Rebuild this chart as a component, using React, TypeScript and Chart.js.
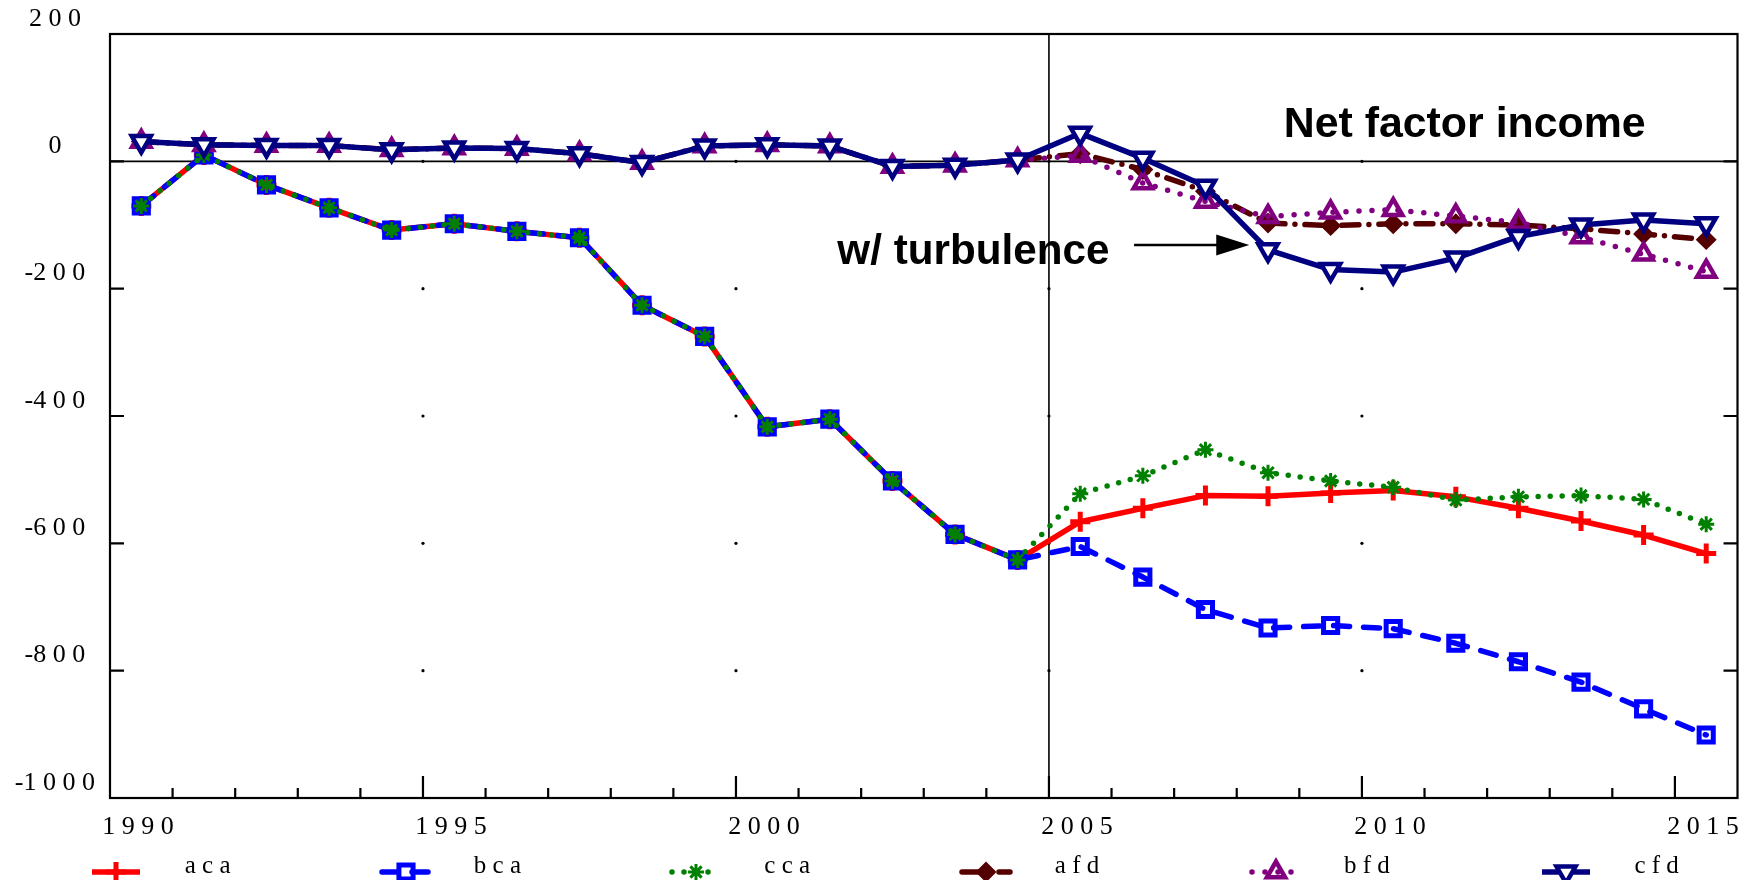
import React, { useEffect, useRef } from 'react';
import { Chart, registerables, PointElement } from 'chart.js';

Chart.register(...registerables);

// ---- data ----
const years = [1990, 1991, 1992, 1993, 1994, 1995, 1996, 1997, 1998, 1999, 2000, 2001, 2002,
  2003, 2004, 2005, 2006, 2007, 2008, 2009, 2010, 2011, 2012, 2013, 2014, 2015];

const acaValues = [-70, 10, -37, -73, -108, -98, -110, -120, -226, -275, -417, -405, -502, -586, -626,
  -566, -545, -525, -526, -521, -517, -527, -545, -565, -587, -616];
const bcaValues = [-70, 10, -37, -73, -108, -98, -110, -120, -226, -275, -417, -405, -502, -586, -626,
  -605, -653, -704, -733, -729, -734, -757, -786, -818, -860, -901];
const ccaValues = [-70, 10, -37, -73, -108, -98, -110, -120, -226, -275, -417, -405, -502, -586, -626,
  -522, -494, -453, -489, -502, -512, -532, -527, -525, -531, -570];
const afdValues = [31, 26, 25, 25, 18, 21, 20, 12, -2, 24, 26, 24, -8, -6, 2,
  12, -13, -47, -97, -101, -98, -98, -100, -106, -114, -123];
const bfdValues = [31, 26, 25, 25, 18, 21, 20, 12, -2, 24, 26, 24, -8, -6, 2,
  9, -34, -63, -87, -80, -76, -86, -96, -119, -146, -173];
const cfdValues = [31, 26, 25, 25, 18, 21, 20, 12, -2, 24, 26, 24, -8, -6, 2,
  44, 5, -39, -139, -170, -174, -152, -118, -100, -92, -98];

const seriesLabels = ['aca', 'bca', 'cca', 'afd', 'bfd', 'cfd'];
const xTickYears = [1990, 1995, 2000, 2005, 2010, 2015];
const yTickValues = [200, 0, -200, -400, -600, -800, -1000];
const gridDotYears = [1995, 2000, 2005, 2010];
const gridDotValues = [0, -200, -400, -600, -800];
const sideTickValues = [0, -200, -400, -600, -800];
const splitYear = 2005;
const titleText = 'Net factor income';
const noteText = 'w/ turbulence';

const SERIF = "'Liberation Serif', 'Times New Roman', serif";
const SANS = "'Liberation Sans', Arial, Helvetica, sans-serif";

// spaced-out number text, minus sign kept next to the first digit
const spaced = (v: any) => {
  const s = String(v);
  const neg = s.startsWith('-');
  const digits = (neg ? s.slice(1) : s).split('').join(' ');
  return (neg ? '-' : '') + digits;
};

const seriesStyles = [
  { color: '#ff0000', dash: [], point: 'cross', radius: 10, pw: 5, bg: 'rgba(0,0,0,0)', rot: 0 },
  { color: '#0000ff', dash: [16, 14], point: 'rect', radius: 10, pw: 5, bg: 'rgba(0,0,0,0)', rot: 0 },
  { color: '#008000', dash: [0, 12], point: 'star', radius: 8, pw: 3, bg: 'rgba(0,0,0,0)', rot: 0 },
  { color: '#550000', dash: [17, 10, 0, 10], point: 'rectRot', radius: 8, pw: 3.5, bg: '#550000', rot: 0 },
  { color: '#800080', dash: [0, 13], point: 'triangle', radius: 10.5, pw: 4.5, bg: 'rgba(0,0,0,0)', rot: 0 },
  { color: '#000080', dash: [], point: 'triangle', radius: 11, pw: 4.5, bg: '#ffffff', rot: 180 },
];

const seriesValues = [acaValues, bcaValues, ccaValues, afdValues, bfdValues, cfdValues];

const decorPlugin = {
  id: 'decor',
  beforeDatasetsDraw(chart: any) {
    const ctx = chart.ctx;
    const { left, right, top, bottom } = chart.chartArea;
    const xs = chart.scales.x;
    const ys = chart.scales.y;
    ctx.save();
    ctx.strokeStyle = '#000';
    ctx.lineWidth = 1.6;
    const y0 = ys.getPixelForValue(0);
    ctx.beginPath();
    ctx.moveTo(left, y0);
    ctx.lineTo(right, y0);
    const xs05 = xs.getPixelForValue(splitYear);
    ctx.moveTo(xs05, top);
    ctx.lineTo(xs05, bottom);
    ctx.stroke();
    ctx.fillStyle = '#000';
    for (const yr of gridDotYears) {
      for (const v of gridDotValues) {
        ctx.beginPath();
        ctx.arc(xs.getPixelForValue(yr), ys.getPixelForValue(v), 1.6, 0, Math.PI * 2);
        ctx.fill();
      }
    }
    ctx.restore();
  },
  afterDatasetsDraw(chart: any) {
    const ctx = chart.ctx;
    const { left, right, top, bottom } = chart.chartArea;
    const xs = chart.scales.x;
    const ys = chart.scales.y;
    ctx.save();
    ctx.strokeStyle = '#000';
    ctx.lineWidth = 2.2;
    ctx.strokeRect(left, top, right - left, bottom - top);
    ctx.beginPath();
    for (let yr = years[0] + 1; yr <= years[years.length - 1]; yr++) {
      const px = xs.getPixelForValue(yr);
      const len = yr % 5 === 0 ? 22 : 10;
      ctx.moveTo(px, bottom);
      ctx.lineTo(px, bottom - len);
    }
    for (const v of sideTickValues) {
      const py = ys.getPixelForValue(v);
      ctx.moveTo(left, py);
      ctx.lineTo(left + 14, py);
      ctx.moveTo(right, py);
      ctx.lineTo(right - 14, py);
    }
    ctx.stroke();
    ctx.restore();
  },
  afterDraw(chart: any) {
    const ctx = chart.ctx;
    const xs = chart.scales.x;
    const ys = chart.scales.y;
    ctx.save();
    ctx.fillStyle = '#000';
    ctx.textAlign = 'left';
    ctx.textBaseline = 'alphabetic';
    ctx.font = `bold 42px ${SANS}`;
    const drawFit = (text: string, x: number, y: number, w: number) => {
      const m = ctx.measureText(text).width;
      ctx.save();
      ctx.translate(x, y);
      ctx.scale(w / m, 1);
      ctx.fillText(text, 0, 0);
      ctx.restore();
    };
    drawFit(titleText, xs.getPixelForValue(2008.75), ys.getPixelForValue(38), 362);
    drawFit(noteText, xs.getPixelForValue(2001.62), ys.getPixelForValue(-161), 272);

    // arrow
    const ax0 = xs.getPixelForValue(2006.36);
    const ax1 = xs.getPixelForValue(2008.2);
    const ay = ys.getPixelForValue(-131.5);
    ctx.strokeStyle = '#000';
    ctx.lineWidth = 2.5;
    ctx.beginPath();
    ctx.moveTo(ax0, ay);
    ctx.lineTo(ax1 - 20, ay);
    ctx.stroke();
    ctx.beginPath();
    ctx.moveTo(ax1, ay);
    ctx.lineTo(ax1 - 33, ay - 10.5);
    ctx.lineTo(ax1 - 33, ay + 10.5);
    ctx.closePath();
    ctx.fill();

    // legend
    const legendY = 872;
    chart.data.datasets.forEach((ds: any, i: number) => {
      const cx = 116 + 290 * i;
      ctx.save();
      ctx.strokeStyle = ds.borderColor;
      ctx.lineWidth = ds.borderWidth;
      ctx.lineCap = ds.borderCapStyle || 'butt';
      ctx.setLineDash(ds.borderDash || []);
      ctx.beginPath();
      ctx.moveTo(cx - 24, legendY);
      ctx.lineTo(cx + 24, legendY);
      ctx.stroke();
      ctx.restore();
      const meta = chart.getDatasetMeta(i);
      const el = meta.data[0];
      if (el) {
        ctx.save();
        const p: any = new PointElement({ x: cx, y: legendY, options: el.options } as any);
        p.draw(ctx);
        ctx.restore();
      }
      ctx.save();
      ctx.font = `25px ${SERIF}`;
      ctx.fillStyle = '#000';
      ctx.textAlign = 'center';
      ctx.textBaseline = 'alphabetic';
      ctx.fillText(ds.label.split('').join(' '), 207.6 + 289.8 * i, 873);
      ctx.restore();
    });
    ctx.restore();
  },
};

export default function App() {
  const canvasRef = useRef<HTMLCanvasElement | null>(null);

  useEffect(() => {
    const canvas = canvasRef.current;
    if (!canvas) return;
    const datasets = seriesValues.map((vals, i) => {
      const s = seriesStyles[i];
      return {
        label: seriesLabels[i],
        // annual values plotted at mid-year
        data: vals.map((v, k) => ({ x: years[k] + 0.5, y: v })),
        borderColor: s.color,
        backgroundColor: s.bg,
        borderWidth: 5.5,
        borderDash: s.dash,
        borderCapStyle: s.dash.length ? 'round' : 'butt',
        borderJoinStyle: 'round',
        tension: 0,
        pointStyle: s.point,
        pointRadius: s.radius,
        pointBorderWidth: s.pw,
        pointBorderColor: s.color,
        pointBackgroundColor: s.bg,
        pointRotation: s.rot,
        order: seriesValues.length - i,
      };
    });

    const chart = new Chart(canvas, {
      type: 'line',
      data: { datasets } as any,
      plugins: [decorPlugin],
      options: {
        responsive: false,
        animation: false,
        layout: { padding: { left: 0, right: 14, top: 34, bottom: 0 } },
        plugins: { legend: { display: false }, tooltip: { enabled: false } },
        scales: {
          x: {
            type: 'linear',
            min: 1990,
            max: 2016,
            afterBuildTicks: (s: any) => { s.ticks = xTickYears.map((v) => ({ value: v })); },
            afterFit: (s: any) => { s.height = 82; },
            grid: { display: false },
            border: { display: false },
            ticks: {
              autoSkip: false,
              maxRotation: 0,
              labelOffset: 28,
              padding: 6,
              color: '#000',
              font: { family: SERIF, size: 26 },
              callback: spaced,
            },
          },
          y: {
            type: 'linear',
            min: -1000,
            max: 200,
            afterBuildTicks: (s: any) => { s.ticks = yTickValues.map((v) => ({ value: v })); },
            afterFit: (s: any) => { s.width = 110; },
            grid: { display: false },
            border: { display: false },
            ticks: {
              crossAlign: 'center',
              padding: 7,
              labelOffset: -15,
              color: '#000',
              font: { family: SERIF, size: 26 },
              callback: spaced,
            },
          },
        },
      } as any,
    });
    return () => chart.destroy();
  }, []);

  return (
    <div style={{ position: 'fixed', left: 0, top: 0, width: 1753, height: 880, background: '#fff' }}>
      <canvas ref={canvasRef} width={1753} height={880} style={{ display: 'block' }} />
    </div>
  );
}
